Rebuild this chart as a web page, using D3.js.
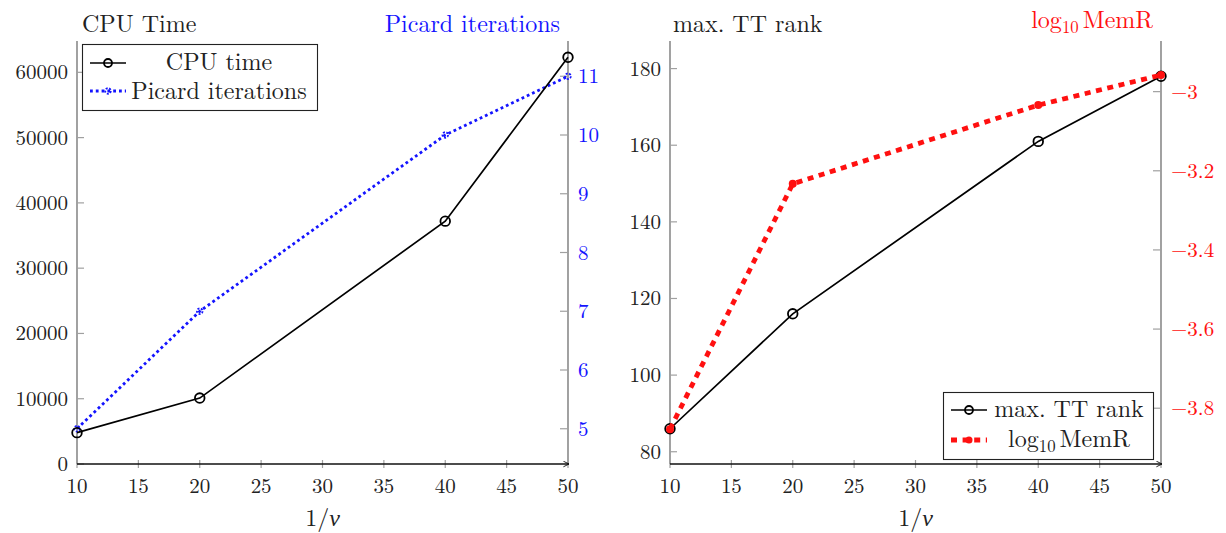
<!DOCTYPE html>
<html>
<head>
<meta charset="utf-8">
<script src="https://cdn.jsdelivr.net/npm/d3@7"></script>
<style>
  html, body { margin: 0; padding: 0; background: #fff; }
  svg { display: block; }
  text { font-family: "Latin Modern Roman", "Liberation Serif", serif; fill: #222; }
</style>
</head>
<body>
<svg id="chart" width="1226" height="533"></svg>
<script>
// ---- data ----
const nuInv = [10, 20, 40, 50];
const cpuTime = [4800, 10100, 37200, 62300];
const picardIters = [5, 7, 10, 11];
const maxTTRank = [86, 116, 161, 178];
const log10MemR = [-3.853, -3.233, -3.034, -2.958];

const xTicks = [10, 15, 20, 25, 30, 35, 40, 45, 50];
const cpuTicks = [0, 10000, 20000, 30000, 40000, 50000, 60000];
const picardTicks = [5, 6, 7, 8, 9, 10, 11];
const rankTicks = [80, 100, 120, 140, 160, 180];
const memTicks = [-3.8, -3.6, -3.4, -3.2, -3];

const BLUE = "#1414ff";
const RED = "#ff1010";
const FS = 21;     // tick labels
const LFS = 24;    // titles, legends, axis labels

const svg = d3.select("#chart");
const plotTop = 41, plotBottom = 464;

const defs = svg.append("defs");
defs.append("marker")
  .attr("id", "arrow").attr("viewBox", "0 0 10 10")
  .attr("refX", 9).attr("refY", 5)
  .attr("markerWidth", 7).attr("markerHeight", 7)
  .attr("markerUnits", "userSpaceOnUse")
  .attr("orient", "auto")
  .append("path").attr("d", "M1,1 L9,5 L1,9").attr("fill", "none")
  .attr("stroke", "#111").attr("stroke-width", 1.3);

const fmtSigned = d => (d < 0 ? "\u2212" : "") + Math.abs(d);

function logMemR(sel, size) {
  sel.append("tspan").text("log");
  sel.append("tspan").attr("font-size", size * 0.7).attr("dy", 5).text("10");
  sel.append("tspan").attr("dy", -5).attr("dx", 4).text("MemR");
}

function panel(opts) {
  const g = svg.append("g");
  const x = d3.scaleLinear().domain([10, 50]).range([opts.x0, opts.x1]);
  const yL = d3.scaleLinear().domain(opts.yLdom).range([plotBottom, plotTop]);
  const yR = d3.scaleLinear().domain(opts.yRdom).range([plotBottom, plotTop]);

  // vertical axis lines
  [opts.x0, opts.x1].forEach(px => {
    g.append("line").attr("x1", px).attr("x2", px).attr("y1", plotTop).attr("y2", plotBottom)
      .attr("stroke", "#7a7a7a").attr("stroke-width", 1.4);
  });

  // x ticks
  xTicks.forEach(t => {
    g.append("line").attr("x1", x(t)).attr("x2", x(t))
      .attr("y1", plotBottom - 4).attr("y2", plotBottom + 4)
      .attr("stroke", "#a0a0a0").attr("stroke-width", 1.2);
    g.append("text").attr("x", x(t)).attr("y", plotBottom + 29)
      .attr("text-anchor", "middle").attr("font-size", FS).text(t);
  });

  // left ticks
  opts.yLticks.forEach(t => {
    g.append("line").attr("x1", opts.x0).attr("x2", opts.x0 + 7)
      .attr("y1", yL(t)).attr("y2", yL(t))
      .attr("stroke", "#a0a0a0").attr("stroke-width", 1.2);
    g.append("text").attr("x", opts.x0 - 9).attr("y", yL(t) + 7)
      .attr("text-anchor", "end").attr("font-size", FS).text(t);
  });

  // right ticks
  opts.yRticks.forEach(t => {
    g.append("line").attr("x1", opts.x1 - 8).attr("x2", opts.x1)
      .attr("y1", yR(t)).attr("y2", yR(t))
      .attr("stroke", "#a0a0a0").attr("stroke-width", 1.2);
    g.append("text").attr("x", opts.x1 + 10).attr("y", yR(t) + 7)
      .attr("text-anchor", "start").attr("font-size", FS)
      .style("fill", opts.rColor).text(fmtSigned(t));
  });

  // x axis with arrow
  g.append("line").attr("x1", opts.x0).attr("x2", opts.x1 + 1)
    .attr("y1", plotBottom).attr("y2", plotBottom)
    .attr("stroke", "#111").attr("stroke-width", 1.3)
    .attr("marker-end", "url(#arrow)");

  // x label 1/ν
  const xl = g.append("text").attr("x", (opts.x0 + opts.x1) / 2).attr("y", 526)
    .attr("text-anchor", "middle").attr("font-size", LFS);
  xl.append("tspan").text("1/");
  xl.append("tspan").attr("font-style", "italic").text("\u03bd");

  return { g, x, yL, yR };
}

// ---------- left panel: CPU time & Picard iterations ----------
const L = panel({
  x0: 77, x1: 568,
  yLdom: [0, 64800], yRdom: [4.4, 11.6],
  yLticks: cpuTicks, yRticks: picardTicks, rColor: BLUE
});

L.g.append("text").attr("x", 82).attr("y", 32).attr("font-size", LFS).text("CPU Time");
L.g.append("text").attr("x", 560).attr("y", 32).attr("text-anchor", "end")
  .attr("font-size", LFS).style("fill", BLUE).text("Picard iterations");

const cpuLine = d3.line().x((d, i) => L.x(nuInv[i])).y(d => L.yL(d));
const picLine = d3.line().x((d, i) => L.x(nuInv[i])).y(d => L.yR(d));

L.g.append("path").attr("d", picLine(picardIters)).attr("fill", "none")
  .attr("stroke", BLUE).attr("stroke-width", 2.8).attr("stroke-dasharray", "2.8 3");
L.g.selectAll(".pm").data(picardIters).enter().append("circle")
  .attr("cx", (d, i) => L.x(nuInv[i])).attr("cy", d => L.yR(d)).attr("r", 2.8)
  .attr("fill", "none").attr("stroke", BLUE).attr("stroke-width", 1.8)
  .attr("stroke-dasharray", "2 1.5");

L.g.append("path").attr("d", cpuLine(cpuTime)).attr("fill", "none")
  .attr("stroke", "#000").attr("stroke-width", 1.7);
L.g.selectAll(".cm").data(cpuTime).enter().append("circle")
  .attr("cx", (d, i) => L.x(nuInv[i])).attr("cy", d => L.yL(d)).attr("r", 4.8)
  .attr("fill", "none").attr("stroke", "#000").attr("stroke-width", 1.8);

// left legend
const lg = L.g.append("g");
lg.append("rect").attr("x", 82.5).attr("y", 44.5).attr("width", 235).attr("height", 66)
  .attr("fill", "#fff").attr("stroke", "#222").attr("stroke-width", 1.1);
lg.append("line").attr("x1", 90).attr("x2", 126).attr("y1", 63).attr("y2", 63)
  .attr("stroke", "#000").attr("stroke-width", 1.7);
lg.append("circle").attr("cx", 108).attr("cy", 63).attr("r", 4).attr("fill", "none")
  .attr("stroke", "#000").attr("stroke-width", 1.8);
lg.append("text").attr("x", 219).attr("y", 70).attr("text-anchor", "middle")
  .attr("font-size", LFS).text("CPU time");
lg.append("line").attr("x1", 90).attr("x2", 126).attr("y1", 91).attr("y2", 91)
  .attr("stroke", BLUE).attr("stroke-width", 2.8).attr("stroke-dasharray", "2.8 3");
lg.append("circle").attr("cx", 108).attr("cy", 91).attr("r", 2.8).attr("fill", "none")
  .attr("stroke", BLUE).attr("stroke-width", 1.8).attr("stroke-dasharray", "2 1.5");
lg.append("text").attr("x", 219).attr("y", 99).attr("text-anchor", "middle")
  .attr("font-size", LFS).text("Picard iterations");

// ---------- right panel: max. TT rank & log10 MemR ----------
const R = panel({
  x0: 670, x1: 1161,
  yLdom: [76.8, 187.2], yRdom: [-3.941, -2.872],
  yLticks: rankTicks, yRticks: memTicks, rColor: RED
});

R.g.append("text").attr("x", 673).attr("y", 32).attr("font-size", LFS).text("max. TT rank");
const mt = R.g.append("text").attr("x", 1153).attr("y", 28).attr("text-anchor", "end")
  .attr("font-size", LFS).style("fill", RED);
logMemR(mt, LFS);

const rankLine = d3.line().x((d, i) => R.x(nuInv[i])).y(d => R.yL(d));
const memLine = d3.line().x((d, i) => R.x(nuInv[i])).y(d => R.yR(d));

R.g.append("path").attr("d", rankLine(maxTTRank)).attr("fill", "none")
  .attr("stroke", "#000").attr("stroke-width", 1.7);
R.g.selectAll(".rm").data(maxTTRank).enter().append("circle")
  .attr("cx", (d, i) => R.x(nuInv[i])).attr("cy", d => R.yL(d)).attr("r", 4.8)
  .attr("fill", "none").attr("stroke", "#000").attr("stroke-width", 1.8);

R.g.append("path").attr("d", memLine(log10MemR)).attr("fill", "none")
  .attr("stroke", RED).attr("stroke-width", 4.8).attr("stroke-dasharray", "6 5.6");
R.g.selectAll(".mm").data(log10MemR).enter().append("circle")
  .attr("cx", (d, i) => R.x(nuInv[i])).attr("cy", d => R.yR(d)).attr("r", 4)
  .attr("fill", RED);

// right legend
const rg = R.g.append("g");
rg.append("rect").attr("x", 943.5).attr("y", 392.5).attr("width", 210).attr("height", 67)
  .attr("fill", "#fff").attr("stroke", "#222").attr("stroke-width", 1.1);
rg.append("line").attr("x1", 951).attr("x2", 987).attr("y1", 410).attr("y2", 410)
  .attr("stroke", "#000").attr("stroke-width", 1.7);
rg.append("circle").attr("cx", 969).attr("cy", 410).attr("r", 4).attr("fill", "none")
  .attr("stroke", "#000").attr("stroke-width", 1.8);
rg.append("text").attr("x", 1069).attr("y", 417).attr("text-anchor", "middle")
  .attr("font-size", LFS).text("max. TT rank");
rg.append("line").attr("x1", 951).attr("x2", 987).attr("y1", 440).attr("y2", 440)
  .attr("stroke", RED).attr("stroke-width", 4.8).attr("stroke-dasharray", "6 5.6");
rg.append("circle").attr("cx", 969).attr("cy", 440).attr("r", 3.5).attr("fill", RED);
const lt = rg.append("text").attr("x", 1069).attr("y", 447).attr("text-anchor", "middle")
  .attr("font-size", LFS);
logMemR(lt, LFS);
</script>
</body>
</html>
